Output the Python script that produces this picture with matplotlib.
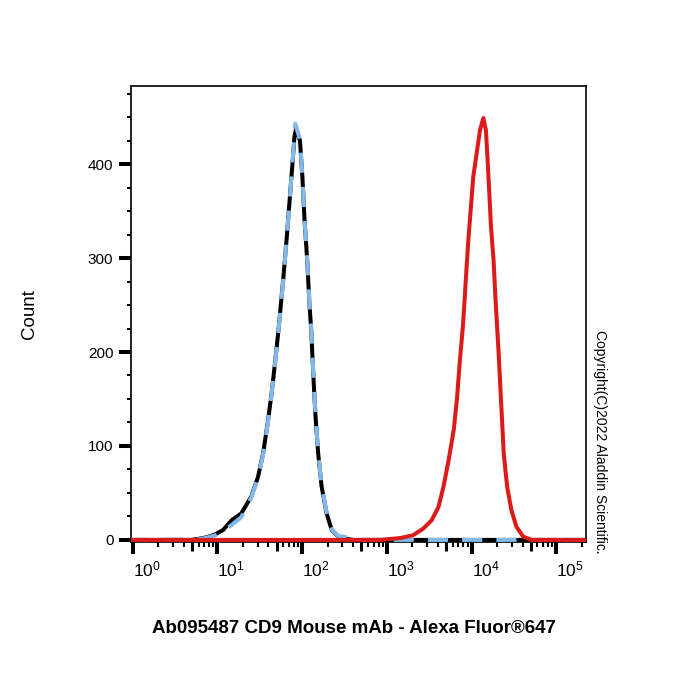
import math
import matplotlib
matplotlib.use('Agg')
import matplotlib.pyplot as plt
from matplotlib.ticker import FixedLocator, FixedFormatter, LogLocator, MultipleLocator, NullFormatter

# fluorescence intensity (a.u.) vs. event count
control_x = [0.9, 5.0, 5.8, 6.8, 7.9, 9.5, 11.7, 14.8, 19.1, 25.1, 30.2, 34.7, 39.8, 43.7,
             47.9, 52.5, 60.3, 66.1, 72.4, 77.6, 81.3, 85.1, 94.4, 101, 107, 115, 122,
             129, 132, 138, 145, 155, 170, 195, 224, 269, 339, 398, 250000]
control_y = [0, 0, 1, 2, 3.5, 6, 10.6, 21, 28, 46, 67, 92, 128, 156,
             188, 222, 280, 323, 369, 404, 429, 438, 425, 386, 340, 298, 252,
             220, 199, 163, 128, 92, 57, 28, 10.6, 3.5, 1, 0, 0]

isotype_x = [0.9, 5.8, 6.8, 7.9, 9.5, 11.7, 14.8, 19.1, 25.1, 30.2, 34.7, 39.8, 43.7,
             47.9, 52.5, 60.3, 66.1, 72.4, 77.6, 83.2, 94.4, 101, 107, 115, 122,
             129, 138, 145, 155, 170, 195, 224, 269, 339, 437, 457, 250000]
isotype_y = [0, 0.5, 1.5, 3, 5, 9, 16, 24, 45, 66, 91, 127, 155,
             187, 221, 279, 322, 368, 405, 443, 426, 387, 341, 299, 253,
             221, 164, 129, 93, 58, 29, 11, 4, 3, 3, 0, 0]

cd9_x = [0.9, 832, 1445, 2042, 2692, 3388, 4074, 4677, 5370, 6166, 6761, 7244, 7943,
         8610, 9120, 9772, 10470, 11480, 12590, 13800, 14790, 15490, 16220, 16980,
         18200, 19050, 19950, 20890, 21880, 22910, 23990, 26300, 29510, 33880, 40740,
         51290, 250000]
cd9_y = [0, 0, 2, 5, 12, 21, 35, 57, 85, 117, 152, 188, 229,
         280, 316, 351, 386, 411, 436, 449, 436, 404, 369, 333,
         298, 262, 230, 199, 163, 128, 92, 57, 32, 14, 3.5,
         0, 0]

x_ticks = [1, 10, 100, 1000, 10000, 100000]
x_tick_labels = [r'$\mathregular{10^{%d}}$' % i for i in range(6)]
y_ticks = [0, 100, 200, 300, 400]

plt.rcParams['font.family'] = ['Liberation Sans', 'DejaVu Sans']
plt.rcParams['mathtext.fontset'] = 'custom'
plt.rcParams['mathtext.rm'] = 'Liberation Sans'

fig = plt.figure(figsize=(7, 7), dpi=100)
ax = fig.add_axes([0.187, 0.226, 0.65, 0.651])

ax.plot(control_x, control_y, color='black', lw=2.9, zorder=3, solid_joinstyle='round')
ax.plot(isotype_x, isotype_y, color='#80b9ea', lw=2.9, zorder=4, dashes=(5, 3.5))
ax.plot(cd9_x, cd9_y, color='#dd1a1a', lw=2.9, zorder=5, solid_joinstyle='round')

ax.set_xscale('log')
ax.set_xlim(10 ** -0.02, 10 ** 5.35)
ax.set_ylim(-2, 483)

ax.xaxis.set_major_locator(FixedLocator(x_ticks))
ax.xaxis.set_major_formatter(FixedFormatter(x_tick_labels))
ax.xaxis.set_minor_locator(LogLocator(base=10, subs=range(2, 10), numticks=20))
ax.xaxis.set_minor_formatter(NullFormatter())
ax.yaxis.set_major_locator(FixedLocator(y_ticks))
ax.yaxis.set_minor_locator(MultipleLocator(25))

ax.tick_params(axis='x', which='major', direction='out', length=8.6, width=2.9, pad=4, labelsize=12.5)
ax.tick_params(axis='x', which='minor', direction='out', length=3.8, width=1.5)
ax.tick_params(axis='y', which='major', direction='out', length=8.6, width=2.9, pad=4, labelsize=11)
ax.tick_params(axis='y', which='minor', direction='out', length=2.9, width=1.4)
for lab in ax.get_xticklabels():
    lab.set_horizontalalignment('left')

# the 5x ticks in each decade are a bit longer
for t, loc in zip(ax.xaxis.get_minor_ticks(), ax.xaxis.get_minorticklocs()):
    mant = loc / 10 ** math.floor(math.log10(loc) + 1e-9)
    if abs(mant - 5) < 0.01:
        t.tick1line.set_markersize(6.5)
        t.tick1line.set_markeredgewidth(2.2)

for s in ax.spines.values():
    s.set_linewidth(1.2)

ax.set_ylabel('Count', fontsize=13.5)
ax.yaxis.set_label_coords(-0.205, 0.5)
ax.set_xlabel('Ab095487 CD9 Mouse mAb - Alexa Fluor®647', fontsize=13.5, fontweight='bold')
ax.xaxis.set_label_coords(0.49, -0.172)

fig.text(600 / 700, 1 - 442 / 700, 'Copyright(C)2022 Aladdin Scientific.', rotation=270,
         ha='center', va='center', fontsize=10)

fig.savefig('out.png', dpi=100)
